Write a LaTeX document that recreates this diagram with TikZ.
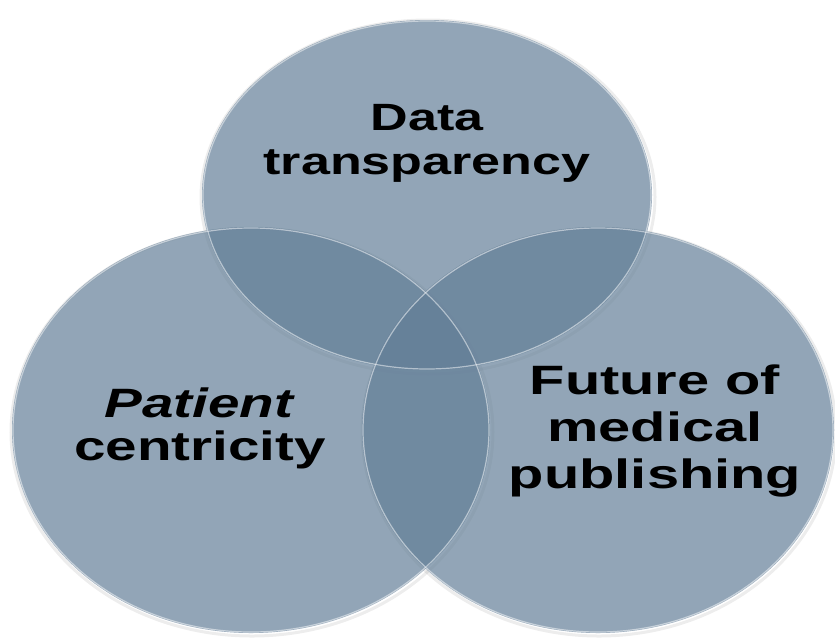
\documentclass[tikz,border=0pt]{standalone}
\usepackage{fontspec}
\setmainfont{Liberation Sans}
\begin{document}
\begin{tikzpicture}[x=1pt,y=-1pt,
  disc/.style={fill={rgb,255:red,98;green,126;blue,151}, fill opacity=0.69},
  rim/.style={draw=white, draw opacity=0.5, line width=1.2pt},
  shade/.style={draw=black, draw opacity=0.07, line width=3pt},
  lbl/.style={anchor=base, align=center, text=black, inner sep=0pt}]
\useasboundingbox (0,0) rectangle (835,638);
\fill[white] (0,0) rectangle (835,638);
% soft outer shadows
\path[shade] (428,197) ellipse [x radius=227, y radius=177];
\path[shade] (252,432) ellipse [x radius=241, y radius=204];
\path[shade] (599,432) ellipse [x radius=237, y radius=204];
% discs
\path[disc] (427,195) ellipse [x radius=225, y radius=175];
\path[disc] (251,430) ellipse [x radius=239, y radius=203];
\path[disc] (598,430) ellipse [x radius=236, y radius=203];
% rims
\path[rim] (427,195) ellipse [x radius=224, y radius=174];
\path[rim] (251,430) ellipse [x radius=238, y radius=202];
\path[rim] (598,430) ellipse [x radius=235, y radius=202];
% labels
\node[lbl, xscale=1.37, font=\bfseries\fontsize{38}{44}\selectfont] (data) at (427,174) {Data\\transparency};
\node[lbl, xscale=1.38, font=\bfseries\fontsize{41}{43}\selectfont] (patient) at (200,460) {\textit{Patient}\\centricity};
\node[lbl, xscale=1.41, font=\bfseries\fontsize{41}{47}\selectfont] (future) at (655,488) {Future of\\medical\\publishing};
\end{tikzpicture}
\end{document}
